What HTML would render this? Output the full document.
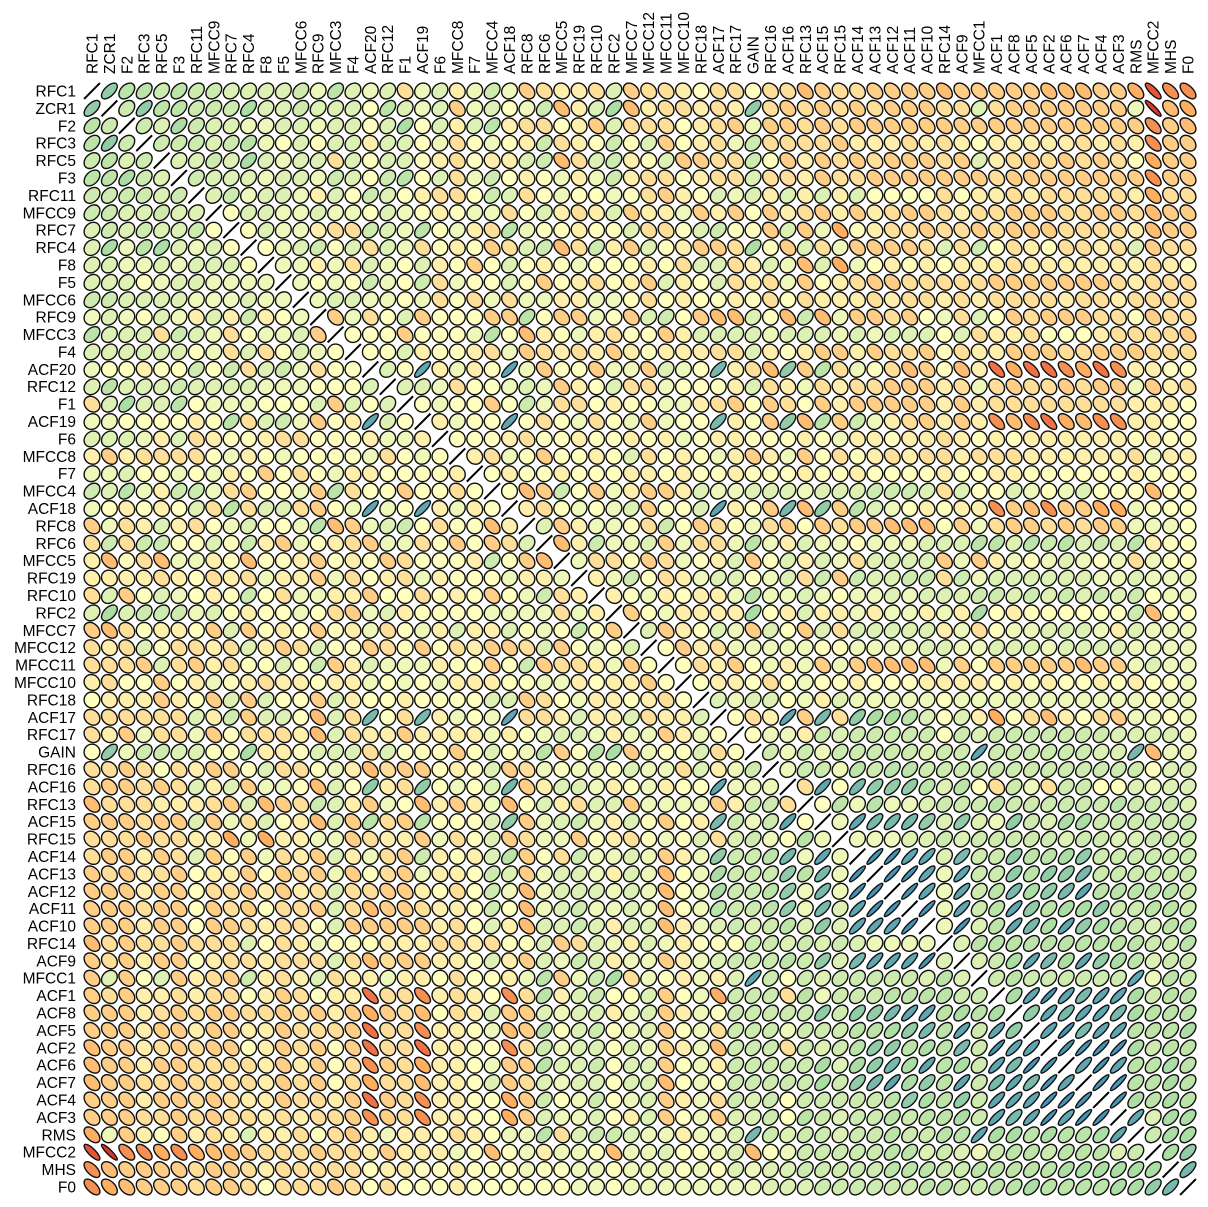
<!DOCTYPE html>
<html><head><meta charset="utf-8"><style>
html,body{margin:0;padding:0;background:#fff;}
svg{display:block;font-family:"Liberation Sans",Arial,sans-serif;}
</style></head><body>
<svg id="chart" width="1208" height="1207" viewBox="0 0 1208 1207" xmlns="http://www.w3.org/2000/svg">
<g id="collabels"></g>
<g id="rowlabels"></g>
<g id="cells"></g>
</svg>
<script>
const variables = ["RFC1","ZCR1","F2","RFC3","RFC5","F3","RFC11","MFCC9","RFC7","RFC4","F8","F5","MFCC6","RFC9","MFCC3","F4","ACF20","RFC12","F1","ACF19","F6","MFCC8","F7","MFCC4","ACF18","RFC8","RFC6","MFCC5","RFC19","RFC10","RFC2","MFCC7","MFCC12","MFCC11","MFCC10","RFC18","ACF17","RFC17","GAIN","RFC16","ACF16","RFC13","ACF15","RFC15","ACF14","ACF13","ACF12","ACF11","ACF10","RFC14","ACF9","MFCC1","ACF1","ACF8","ACF5","ACF2","ACF6","ACF7","ACF4","ACF3","RMS","MFCC2","MHS","F0"];
// correlation code letters: A=-1.0 ... K=0 ... U=+1.0 (steps of 0.1)
const levelCodes = "ABCDEFGHIJKLMNOPQRSTU";
// upper triangle rows: row i holds correlations with columns i+1..63
const upperRows = [
"QOONONNMMMMNLOM"+"LMILMJLNLHIJJIMH"+"IIJKIIKIIGHIIHHH"+"HGHHHHHGGGHHFCEE",
"NQOONNNPMMNMMM"+"KOMLMHLMKLNGJMPG"+"JIIJIJQIHIHIHIHH"+"HIIMIHHHHHHHLBGF",
"NMPNMMLLMMLMM"+"KMPKMJMOJIIKJHMI"+"IIKJIHLHHIHIHHHH"+"HHHHHHHHHHHHHEHG",
"NNNMNOLKMKMM"+"JMMKLIKLKJNIJKNK"+"MHKJILNIIIIHJJJI"+"JIJKJJJJJIJIJEHH",
"MMNMPMLMMIM"+"KMMKJIKJJMNGIMNJ"+"KMHHIINKHJHIHIHH"+"HIHMJIHIHIHIKFHH",
"NMMMLMMLNM"+"KNOKMILNKJKLJLNJ"+"IIKJIIMIIJHIIHHH"+"HHHHIHHHHHHHHEHH",
"MNLMMLJMK"+"NMKJIIKNMIKLKKLK"+"IHJKMLMJMJMJMKKK"+"KIKJJIJIIIIIJFII",
"KMMLLMLL"+"KMLKJKLLIKMJIJMH"+"JJLHJHKHJIHJHJIH"+"HIJIIHHHIIHHIGHH",
"KMLLJII"+"NMLOKLJIOLKKJKKM"+"IIKMNKKHMHLFKJII"+"HIIHIHHHIIIIJGHH",
"KLMNKM"+"IMLIKJKHIMNGINJH"+"MKJHHIPKHMILHHHH"+"IMINKIJKIIJIMHII",
"LLJLI"+"MLKMJKHKMKJKLKKK"+"JKIMMIJMLGMFLKJK"+"JKJJJIJJJJJJJIJK",
"LKLK"+"NLKNILKKMKHKJIKJ"+"HMJKMIJILHKJIHHI"+"IIIIHHHHHHHIJIII",
"LMM"+"LLKLIKILILLJJLLK"+"IKJKKJKIKIJJJIJI"+"IJIJIIIIJIIJIIII",
"HL"+"IKMHKKKHHOKHHLKH"+"MNKHGGMKGNGLHHIH"+"KLIMKHIHHHIIKHII",
"K"+"KKHKKKLOKGJKLJIK"+"KHJMMMMLMMMLMLMM"+"MKMIJJIKKKJIIIIH",
"KKMJKKJILHIJIJHJ"+"KJJJIIMJKJHHJHII"+"HKIJJHHHIIHHHIII",
"MKSJLJKSLHKKHLL"+"HMLKRJIGQHOILKIG"+"HKGJDFDDEFDEJJKK",
"MMLIKKLMLHJKMI"+"ILKKKJMIJLIJIIHH"+"HJILIHIIHIHHLHJI",
"KLKKHKNLIIKJK"+"KLLJIHKHIKHJHHHH"+"HJHJIIIIIIIIJJJK",
"JLKKSKIKLIKL"+"HLKKRJKHQGOHNLJI"+"HJHJEGEDFGEEJJKK",
"KKKJIKKJKKJ"+"KJLKJJKKKJKLJJKJ"+"JIJKJKJJJJJJKJKK",
"JILKHKKJKM"+"IKJKLJHJLHKIKJIJ"+"IIJIIIJJJJJJILJJ",
"KJKKJKKKJ"+"JKJKKJKKKJKKJKKK"+"KJKKJJKKKKKKJKKK",
"KGHNKHLJ"+"HHJMLLMMMLMMMNNN"+"MIMKKMLKLMKKKGKK",
"JIKLKLM"+"HKKMSJKHRGQHOMLK"+"JKJJEHGEHHFFLKKK",
"MHJLLK"+"INKHIKLIHKHIHHGG"+"GKHLIHHIHIHHLLLK",
"GJNLL"+"MHLIILOLJMLLKLLL"+"MMMOOMONOMNMOJKK",
"LIIK"+"HILKJMHKMJMLIMMM"+"MHLHJLKLMLKLILKK",
"JLN"+"KIJLMMKLMINHNMMN"+"NINLMMMMMMLLMLLL",
"JK"+"LJKJJLOLLMLKLLML"+"MMMNNMNMNMNMNKLL",
"H"+"KLJJJJPKJMJJLJLL"+"JLJPKJKKKKKKNGKK",
"MHJKMLHMKHMIMMMM"+"MJLIKLLMMMLJMLLL",
"KHJILLLLLKKLLLL"+"MMLLMMMLMMMMLLLL",
"KIJHKLJLHLHGGG"+"GLHKHHHHHGHHLMLL",
"KJJKIKLKKJKKK"+"JJJJKJKJKKJKJKKL",
"MLMMKLJMLLLL"+"LKLLLLLLLLLLLKLL",
"KIJSHRIQPPO"+"MKMJFKIGJKIHLLKL",
"KLLJNMNNNN"+"NKNMNNNNNNNMMMML",
"NLNLNNNNN"+"MNNSNNNNNNMMRGLL",
"LNNLONOO"+"NNNNNNNNNNNNNKMM",
"ISKRQQQ"+"OMOKINLINNKKMLMM",
"KOLOLL"+"MNNNONNNNNNONNNM",
"LSRRR"+"QMQMLQNMPPNNNNNN",
"LLLM"+"MNMNNNNNMNNMMNNN",
"TTS"+"SMRNNQOOPQNNNNNN",
"TT"+"SLSNNQOQQRNNNNNN",
"T"+"SLSNORPQRSOOOOON",
"TLSNOSQOPPQNNOON",
"LTMOSRPSQPONMOO",
"MOOOOOOOOOONNO",
"MNPSRPSQPOMNN",
"NONNNNNNSLON",
"PSTSRSSPNOO",
"QSRSSRPOOO",
"STRSSOOOP",
"TTTTPNOO",
"STSOOPO",
"TTOOPO",
"TPOPO",
"SMPP",
"NPP",
"PQ",
"R",
""
];
const colorStops = [-1,-0.5,0,0.5,1];
const colorHex = ["#d7191c","#fdae61","#ffffbf","#abdda4","#2b83ba"];

const N = variables.length;
const x0 = 92, y0 = 91, step = (1188-92)/63;
function xPos(j){ return x0 + j*step; }
function yPos(i){ return y0 + i*step; }
function decode(ch){ const k = levelCodes.indexOf(ch); return k<0 ? 0 : (k-10)/10; }
function hex2rgb(h){ return [parseInt(h.substr(1,2),16),parseInt(h.substr(3,2),16),parseInt(h.substr(5,2),16)]; }
function colorOf(r){
  for(let k=0;k<colorStops.length-1;k++){
    if(r<=colorStops[k+1]){
      const t=(r-colorStops[k])/(colorStops[k+1]-colorStops[k]);
      const a=hex2rgb(colorHex[k]), b=hex2rgb(colorHex[k+1]);
      return "rgb("+a.map((v,i)=>Math.round(v+(b[i]-v)*t)).join(",")+")";
    }
  }
  return colorHex[colorHex.length-1];
}
const M = [];
for(let i=0;i<N;i++){ M.push(new Array(N).fill(0)); M[i][i]=1; }
for(let i=0;i<N;i++){
  const s = upperRows[i] || "";
  for(let j=i+1;j<N;j++){
    const r = decode(s.charAt(j-i-1));
    M[i][j]=r; M[j][i]=r;
  }
}
const NS="http://www.w3.org/2000/svg";
const colG=document.getElementById("collabels");
const rowG=document.getElementById("rowlabels");
const cellG=document.getElementById("cells");
variables.forEach((v,j)=>{
  const t=document.createElementNS(NS,"text");
  
  
  t.setAttribute("transform","translate("+(xPos(j)+5.5)+",74) rotate(-90)");
  t.setAttribute("font-size","15.5");
  t.setAttribute("fill","#000");
  t.textContent=v;
  colG.appendChild(t);
});
variables.forEach((v,i)=>{
  const t=document.createElementNS(NS,"text");
  
  
  t.setAttribute("x","76");
  t.setAttribute("y",yPos(i)+5.5);
  t.setAttribute("text-anchor","end");
  t.setAttribute("font-size","15.5");
  t.setAttribute("fill","#000");
  t.textContent=v;
  rowG.appendChild(t);
});
const k = 7.9;
for(let i=0;i<N;i++){
  for(let j=0;j<N;j++){
    const r=M[i][j], cx=xPos(j), cy=yPos(i);
    const a=k*Math.sqrt(1+Math.abs(r)), b=k*Math.sqrt(Math.max(0,1-Math.abs(r)));
    const ang = r>=0 ? -45 : 45;
    if(b<0.6){
      const l=document.createElementNS(NS,"line");
      
      
      l.setAttribute("x1",cx-a); l.setAttribute("x2",cx+a);
      l.setAttribute("y1",cy); l.setAttribute("y2",cy);
      l.setAttribute("transform","rotate("+ang+" "+cx+" "+cy+")");
      l.setAttribute("stroke","#000"); l.setAttribute("stroke-width","2");
      cellG.appendChild(l);
    } else {
      const e=document.createElementNS(NS,"ellipse");
      
      
      e.setAttribute("cx",cx); e.setAttribute("cy",cy);
      e.setAttribute("rx",a.toFixed(2)); e.setAttribute("ry",b.toFixed(2));
      e.setAttribute("transform","rotate("+ang+" "+cx+" "+cy+")");
      e.setAttribute("fill",colorOf(r));
      e.setAttribute("stroke","#111"); e.setAttribute("stroke-width","1.4");
      cellG.appendChild(e);
    }
  }
}
</script>
</body></html>
